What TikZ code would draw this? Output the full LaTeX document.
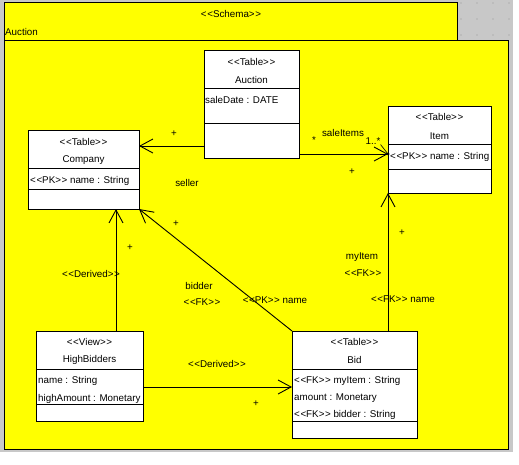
\documentclass[tikz,border=0pt]{standalone}
\usepackage{fontspec}
\setmainfont{Liberation Sans}
\usepackage{tikz}
\usetikzlibrary{calc,arrows.meta,positioning}

\definecolor{schemayellow}{RGB}{255,255,0}
\definecolor{canvasgrey}{RGB}{200,200,200}
\definecolor{griddot}{RGB}{150,150,150}
\newcommand{\stereo}[1]{<\kern0.6pt<#1>\kern0.6pt>}

\tikzset{
  txt/.style={font=\fontsize{9.8}{12}\selectfont, inner sep=0pt},
  attr/.style={txt, anchor=west},
  tablebox/.style={draw, fill=white, anchor=north west, inner sep=0pt, outer sep=0pt, line width=0.9pt},
  nav/.style={line width=0.9pt, -{Straight Barb[length=13pt,width=14pt,line width=0.9pt]}},
}

\begin{document}
\begin{tikzpicture}[x=1pt,y=-1pt]
  \useasboundingbox (0,0) rectangle (519,464);
  \fill[white] (0,0) rectangle (519,464);
  \fill[canvasgrey] (0,0) rectangle (513,452);
  \foreach \gx in {461,477,493,509}
    \foreach \gy in {3,19,35}
      \fill[griddot] (\gx,\gy) circle (0.7);

  % schema package
  \draw[fill=schemayellow, line width=0.9pt] (4,2) rectangle (457,40);
  \draw[fill=schemayellow, line width=1pt] (4,40) rectangle (508,449);
  \node[txt] (schemastereo) at (231,14) {\stereo{Schema}};
  \node[attr] (schemaname) at (5,32) {Auction};

  % tables
  \node[tablebox, minimum width=95pt, minimum height=108pt] (auction) at (204,50) {};
  \node[tablebox, minimum width=111pt, minimum height=79pt] (company) at (28,130) {};
  \node[tablebox, minimum width=103pt, minimum height=87pt] (item) at (388,106) {};
  \node[tablebox, minimum width=107pt, minimum height=90pt] (highbidders) at (36,331) {};
  \node[tablebox, minimum width=125pt, minimum height=107pt] (bid) at (292,331) {};

  \draw[line width=0.9pt]
  (auction.west |- 0,88) -- (auction.east |- 0,88)
  (auction.west |- 0,123) -- (auction.east |- 0,123)
  (company.west |- 0,168) -- (company.east |- 0,168)
  (company.west |- 0,189) -- (company.east |- 0,189)
  (item.west |- 0,144) -- (item.east |- 0,144)
  (item.west |- 0,169) -- (item.east |- 0,169)
  (highbidders.west |- 0,369) -- (highbidders.east |- 0,369)
  (highbidders.west |- 0,404) -- (highbidders.east |- 0,404)
  (bid.west |- 0,369) -- (bid.east |- 0,369)
  (bid.west |- 0,421) -- (bid.east |- 0,421)
  ;

  \node[txt] (auctionst) at (auction.north |- 0,62) {\stereo{Table}};
  \node[txt] (auctiontitle) at (auction.north |- 0,80) {Auction};
  \node[attr] (auctiondate) at (205,100) {saleDate : DATE};

  \node[txt] (companyst) at (company.north |- 0,142) {\stereo{Table}};
  \node[txt] (companytitle) at (company.north |- 0,160) {Company};
  \node[attr] (companyname) at (30,181) {\stereo{PK} name : String};

  \node[txt] (itemst) at (item.north |- 0,117) {\stereo{Table}};
  \node[txt] (itemtitle) at (item.north |- 0,136) {Item};
  \node[attr] (itemname) at (390,157) {\stereo{PK} name : String};

  \node[txt] (highbidderst) at (highbidders.north |- 0,342) {\stereo{View}};
  \node[txt] (highbidderstitle) at (highbidders.north |- 0,360) {HighBidders};
  \node[attr] (highbiddersname) at (38,381) {name : String};
  \node[attr] (highbiddersamount) at (38,399) {highAmount : Monetary};

  \node[txt] (bidst) at (bid.north |- 0,342) {\stereo{Table}};
  \node[txt] (bidtitle) at (bid.north |- 0,360) {Bid};
  \node[attr] (biditem) at (294,381) {\stereo{FK} myItem : String};
  \node[attr] (bidamount) at (294,398) {amount : Monetary};
  \node[attr] (bidbidder) at (294,415) {\stereo{FK} bidder : String};

  % associations
  \coordinate (sellerend) at ([yshift=12pt]auction.south west);
  \draw[nav] (sellerend) -- (sellerend -| company.east);
  \coordinate (itemsend) at ([yshift=4pt]auction.south east);
  \draw[nav] (itemsend) -- (itemsend -| item.west);
  \fill (itemsend -| item.west) circle (1.5);
  \coordinate (derivedtop) at ([xshift=80pt]highbidders.north west);
  \draw[nav] (derivedtop) -- (derivedtop |- company.south);
  \draw[nav] (bid.north west) -- (company.south east);
  \draw[nav] (bid.north -| item.south west) -- (item.south west);
  \coordinate (derivedright) at ([yshift=34pt]highbidders.south east);
  \draw[nav] (derivedright) -- (derivedright -| bid.west);

  % role labels
  \node[txt] (sellerplus) at (174,134) {+};
  \node[txt] (sellerrole) at (187,183) {seller};
  \node[txt] (itemsstar) at (314,140) {*};
  \node[txt] (itemsrole) at (343,133) {saleItems};
  \node[txt] (itemsmult) at (373,141) {1..*};
  \draw[line width=0.6pt] (itemsmult.south east) -- (itemsend -| item.west);
  \node[txt] (itemsplus) at (352,172) {+};
  \node[txt] (derivedplus) at (130,248) {+};
  \node[txt] (derivedst) at (91,274) {\stereo{Derived}};
  \node[txt] (bidderplus) at (176,224) {+};
  \node[txt] (bidderrole) at (199,286) {bidder};
  \node[txt] (bidderfk) at (202,302) {\stereo{FK}};
  \node[txt] (bidderpk) at (275,300) {\stereo{PK} name};
  \node[txt] (myitemplus) at (402,233) {+};
  \node[txt] (myitemrole) at (362,257) {myItem};
  \node[txt] (myitemfk) at (363,273) {\stereo{FK}};
  \node[txt] (myitempk) at (403,299) {\stereo{FK} name};
  \node[txt] (bidsderived) at (217,364) {\stereo{Derived}};
  \node[txt] (bidsplus) at (256,404) {+};
\end{tikzpicture}
\end{document}
